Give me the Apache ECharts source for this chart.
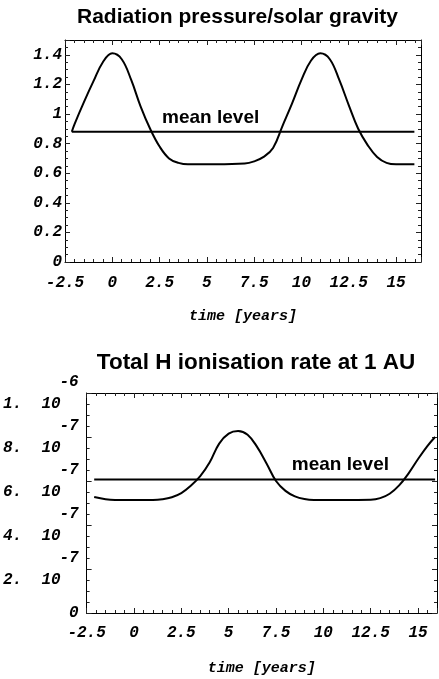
<!DOCTYPE html>
<html>
<head>
<meta charset="utf-8">
<script src="https://cdn.jsdelivr.net/npm/echarts@6/dist/echarts.min.js"></script>
<style>
  html, body { margin: 0; padding: 0; background: #fff; }
  #chart { width: 439px; height: 679px; }
</style>
</head>
<body>
<div id="chart"></div>
<script>
// Ratio of radiation pressure to solar gravity over the solar cycle
const pressureTime = [-2.14, -2.0, -1.5, -1.0, -0.5, 0, 0.5, 1.0, 1.5, 2.0, 2.5, 3.0, 3.5, 4.0, 5.5, 7.0, 7.5, 8.0, 8.5, 9.0, 9.5, 10.0, 10.5, 11.0, 11.5, 12.0, 12.5, 13.0, 13.5, 14.0, 14.5, 15.0, 15.97];
const pressureRatio = [0.88, 0.93, 1.08, 1.22, 1.35, 1.41, 1.37, 1.23, 1.05, 0.90, 0.78, 0.70, 0.67, 0.66, 0.66, 0.665, 0.68, 0.71, 0.77, 0.92, 1.07, 1.23, 1.36, 1.41, 1.37, 1.23, 1.06, 0.90, 0.79, 0.71, 0.67, 0.66, 0.66];
const pressureMean = 0.88;

// Total hydrogen ionisation rate at 1 AU [1/s]
const ionTime = [-2.1, -1.5, -1.0, 0, 1.0, 1.5, 2.0, 2.5, 3.0, 3.5, 4.0, 4.5, 5.0, 5.5, 6.0, 6.5, 7.0, 7.5, 8.0, 8.5, 9.0, 9.5, 11.0, 12.5, 13.0, 13.5, 14.0, 14.5, 15.0, 15.5, 15.9];
const ionRate = [5.27e-7, 5.17e-7, 5.14e-7, 5.14e-7, 5.14e-7, 5.17e-7, 5.26e-7, 5.45e-7, 5.78e-7, 6.22e-7, 6.85e-7, 7.7e-7, 8.15e-7, 8.27e-7, 8.1e-7, 7.55e-7, 6.8e-7, 6.0e-7, 5.55e-7, 5.3e-7, 5.18e-7, 5.14e-7, 5.14e-7, 5.15e-7, 5.22e-7, 5.42e-7, 5.8e-7, 6.35e-7, 7.0e-7, 7.6e-7, 8.0e-7];
const ionMean = 6.07e-7;

// Axis ticks
const timeTicks = [-2.5, 0, 2.5, 5, 7.5, 10, 12.5, 15];
const ratioTicks = [0, 0.2, 0.4, 0.6, 0.8, 1, 1.2, 1.4];
const ionTicks = [0, 2e-7, 4e-7, 6e-7, 8e-7, 1e-6];

// Text placed inside the plots
const titles = ['Radiation pressure/solar gravity', 'Total H ionisation rate at 1 AU'];
const meanText = 'mean level';
const pressureMeanLabelAt = [5.2, 0.973];
const ionMeanLabelAt = [10.9, 6.73e-7];

const monoFamily = '"Liberation Mono", "Courier New", monospace';
const monoFont = { fontFamily: monoFamily, fontStyle: 'italic', fontWeight: 'bold', color: '#000' };
const sansFamily = '"Liberation Sans", Arial, sans-serif';

const tickLine = { color: '#222', width: 1 };
const frameLine = { show: true, onZero: false, lineStyle: { color: '#000', width: 1 } };

function pairs(xs, ys) { return xs.map((x, i) => [x, ys[i]]); }

function frameAxis(grid, position, range, interval, split, label) {
  return {
    type: 'value', gridIndex: grid, position: position,
    min: range[0], max: range[1], interval: interval,
    axisLine: frameLine,
    axisTick: { show: true, inside: true, length: 5, lineStyle: tickLine },
    minorTick: { show: true, splitNumber: split, length: 3, lineStyle: tickLine },
    splitLine: { show: false },
    axisLabel: label ? label : { show: false }
  };
}

const ratioLabel = v => {
  const hit = ratioTicks.find(t => Math.abs(t - v) < 1e-9);
  return hit === undefined ? '' : (hit === 0 ? '0' : String(hit));
};
const timeLabel = v => {
  const hit = timeTicks.find(t => Math.abs(t - v) < 1e-9);
  return hit === undefined ? '' : String(hit);
};
const ionLabel = v => {
  const hit = ionTicks.find(t => Math.abs(t - v) < 1e-13);
  if (hit === undefined) return '';
  if (hit === 0) return '{b|0}';
  const exp = Math.floor(Math.log10(hit) + 1e-9);
  const mant = Math.round(hit / Math.pow(10, exp));
  return '{e|' + exp + '}\n{b|' + mant + '.  10}{s| }';
};

const meanLabel = {
  show: true, position: [0, 0], align: 'center', verticalAlign: 'middle', formatter: meanText,
  fontFamily: sansFamily, fontWeight: 'bold', fontSize: 19, color: '#000'
};

const chart = echarts.init(document.getElementById('chart'), null, { renderer: 'canvas' });

const option = {
  animation: false,
  backgroundColor: '#fff',
  grid: [
    { left: 65, top: 40, width: 356, height: 222 },
    { left: 86, top: 393, width: 351, height: 220 }
  ],
  xAxis: [
    Object.assign(frameAxis(0, 'bottom', [-2.5, 16.32], 2.5, 5, Object.assign({
      margin: 13, showMaxLabel: false, fontSize: 16, formatter: timeLabel
    }, monoFont)), {
      name: 'time [years]', nameLocation: 'middle', nameGap: 47,
      nameTextStyle: Object.assign({ fontSize: 15 }, monoFont)
    }),
    frameAxis(0, 'top', [-2.5, 16.32], 2.5, 5, null),
    Object.assign(frameAxis(1, 'bottom', [-2.5, 16.0], 2.5, 5, Object.assign({
      margin: 12, showMaxLabel: false, fontSize: 16, formatter: timeLabel
    }, monoFont)), {
      name: 'time [years]', nameLocation: 'middle', nameGap: 48,
      nameTextStyle: Object.assign({ fontSize: 15 }, monoFont)
    }),
    frameAxis(1, 'top', [-2.5, 16.0], 2.5, 5, null)
  ],
  yAxis: [
    frameAxis(0, 'left', [0, 1.5], 0.2, 4, Object.assign({
      margin: 3, showMaxLabel: false, fontSize: 16, formatter: ratioLabel
    }, monoFont)),
    frameAxis(0, 'right', [0, 1.5], 0.2, 4, null),
    frameAxis(1, 'left', [0, 1e-6], 2e-7, 4, {
      margin: 8, fontSize: 16, formatter: ionLabel,
      rich: {
        e: Object.assign({ fontSize: 16, lineHeight: 22, align: 'right' }, monoFont),
        b: Object.assign({ fontSize: 16, lineHeight: 22 }, monoFont),
        s: { width: 18, fontSize: 16, lineHeight: 22 }
      }
    }),
    frameAxis(1, 'right', [0, 1e-6], 2e-7, 4, null)
  ],
  graphic: [
    { type: 'text', x: 237.5, y: 17.5, style: { text: titles[0], align: 'center', verticalAlign: 'middle', fontFamily: sansFamily, fontWeight: 'bold', fontSize: 21, fill: '#000' } },
    { type: 'text', x: 256, y: 363, style: { text: titles[1], align: 'center', verticalAlign: 'middle', fontFamily: sansFamily, fontWeight: 'bold', fontSize: 22.5, fill: '#000' } }
  ],
  series: [
    {
      type: 'line', xAxisIndex: 0, yAxisIndex: 0, smooth: 0.4, symbol: 'none',
      lineStyle: { color: '#000', width: 2 },
      data: pairs(pressureTime, pressureRatio)
    },
    {
      type: 'line', xAxisIndex: 0, yAxisIndex: 0, symbol: 'none',
      lineStyle: { color: '#000', width: 2 },
      data: [[pressureTime[0], pressureMean], [pressureTime[pressureTime.length - 1], pressureMean]]
    },
    {
      type: 'scatter', xAxisIndex: 0, yAxisIndex: 0, symbolSize: 0, silent: true,
      itemStyle: { opacity: 1 },
      label: meanLabel,
      data: [pressureMeanLabelAt]
    },
    {
      type: 'line', xAxisIndex: 2, yAxisIndex: 2, smooth: 0.4, symbol: 'none',
      lineStyle: { color: '#000', width: 2 },
      data: pairs(ionTime, ionRate)
    },
    {
      type: 'line', xAxisIndex: 2, yAxisIndex: 2, symbol: 'none',
      lineStyle: { color: '#000', width: 2 },
      data: [[ionTime[0], ionMean], [ionTime[ionTime.length - 1], ionMean]]
    },
    {
      type: 'scatter', xAxisIndex: 2, yAxisIndex: 2, symbolSize: 0, silent: true,
      itemStyle: { opacity: 1 },
      label: meanLabel,
      data: [ionMeanLabelAt]
    }
  ]
};

chart.setOption(option);
</script>
</body>
</html>
